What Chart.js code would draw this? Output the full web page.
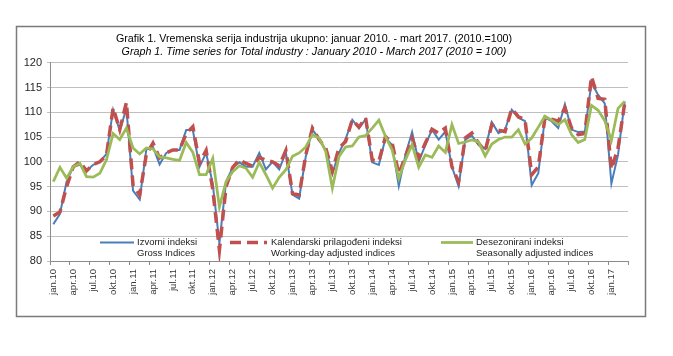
<!DOCTYPE html>
<html>
<head>
<meta charset="utf-8">
<script src="https://cdn.jsdelivr.net/npm/chart.js@4.4.1/dist/chart.umd.min.js"></script>
<style>
  html, body { margin: 0; padding: 0; background: #ffffff; }
  canvas { display: block; }
</style>
</head>
<body>
<canvas id="c" width="673" height="356"></canvas>
<script>
// ---- data ----
const monthNames = ['jan','feb','mar','apr','maj','jun','jul','avg','sep','okt','nov','dec'];
const yearNames = ['10','11','12','13','14','15','16','17'];
const monthCount = 87; // January 2010 - March 2017

const grossIndices = [
  87.4, 89.5, 96.0, 99.0, 99.4, 98.2, 99.4, 100.0, 101.6, 110.5, 106.3, 110.8,
  94.2, 92.4, 102.5, 103.0, 99.5, 101.8, 102.4, 102.4, 106.4, 106.4, 99.0, 101.8,
  95.5, 83.6, 96.0, 98.9, 99.9, 99.0, 99.0, 101.8, 98.5, 100.0, 98.5, 101.9,
  93.4, 92.6, 101.1, 106.5, 104.7, 102.4, 97.7, 101.8, 104.6, 108.5, 106.8, 108.6,
  99.9, 99.4, 104.8, 103.4, 95.1, 101.4, 106.0, 100.0, 103.4, 106.5, 104.5, 106.1,
  99.0, 95.1, 104.5, 105.3, 103.4, 102.6, 108.0, 105.8, 106.5, 110.5, 108.9, 108.2,
  95.3, 97.7, 108.9, 108.2, 106.8, 111.6, 106.5, 106.0, 106.1, 116.0, 113.5, 111.8,
  95.6, 101.4, 112.2
];
const workingDayAdjusted = [
  89.1, 89.9, 95.0, 99.0, 100.0, 98.2, 99.5, 100.0, 101.3, 110.9, 106.5, 112.0,
  95.3, 93.3, 101.5, 103.8, 100.8, 101.8, 102.4, 102.4, 105.7, 107.1, 99.8, 102.3,
  94.5, 82.2, 95.0, 98.9, 100.4, 99.7, 99.1, 100.9, 100.3, 100.0, 99.2, 102.3,
  93.6, 93.3, 101.4, 106.8, 104.5, 102.8, 98.1, 102.8, 104.1, 108.5, 107.0, 108.9,
  100.4, 100.1, 105.1, 103.8, 97.5, 101.1, 104.8, 100.7, 103.8, 106.6, 105.8, 106.8,
  99.0, 96.0, 104.8, 105.8, 103.8, 102.1, 107.5, 106.4, 106.1, 110.7, 109.1, 108.5,
  97.4, 99.0, 108.9, 108.6, 108.2, 110.9, 106.8, 105.5, 105.7, 117.2, 112.8, 112.6,
  98.5, 102.8, 111.8
];
const seasonallyAdjusted = [
  96.0, 98.9, 96.7, 99.0, 99.7, 97.0, 96.9, 97.7, 100.4, 105.7, 104.5, 106.8,
  102.8, 101.6, 102.8, 102.6, 101.0, 100.8, 100.5, 100.3, 103.9, 101.9, 97.4, 97.4,
  100.7, 90.9, 96.0, 98.0, 99.2, 98.7, 96.9, 99.9, 97.4, 94.7, 96.9, 98.4,
  101.1, 101.8, 103.0, 105.5, 104.8, 102.1, 94.7, 101.1, 103.0, 103.2, 105.0, 105.3,
  106.8, 108.4, 105.1, 102.4, 96.7, 100.4, 103.5, 98.9, 101.4, 100.9, 103.2, 101.9,
  107.5, 103.7, 104.0, 104.4, 104.0, 101.2, 103.6, 104.5, 105.0, 105.0, 106.5, 103.6,
  104.8, 107.0, 109.2, 108.4, 107.5, 108.5, 105.5, 103.9, 104.5, 111.4, 110.4, 108.3,
  104.3, 110.8, 112.2
];
const yTicks = [80, 85, 90, 95, 100, 105, 110, 115, 120];

const titleLine1 = 'Grafik 1. Vremenska serija industrija ukupno: januar 2010. - mart 2017. (2010.=100)';
const titleLine2 = 'Graph 1. Time series for Total industry : January 2010 - March 2017 (2010 = 100)';
const seriesNames = [
  ['Izvorni indeksi', 'Gross Indices'],
  ['Kalendarski prilagođeni indeksi', 'Working-day adjusted indices'],
  ['Desezonirani indeksi', 'Seasonally adjusted indices']
];

// ---- build categories ----
const categories = [];
for (const y of yearNames) {
  for (const m of monthNames) {
    if (categories.length < monthCount) categories.push(m + '.' + y);
  }
}

const FONT = "'Liberation Sans', Arial, sans-serif";
const BLUE = '#4a7ebb';
const RED = '#c0504d';
const GREEN = '#9bbb59';

const framePlugin = {
  id: 'frame',
  beforeDraw(chart) {
    const ctx = chart.ctx;
    ctx.save();
    ctx.fillStyle = '#ffffff';
    ctx.fillRect(0, 0, chart.width, chart.height);
    ctx.strokeStyle = '#7a7a7a';
    ctx.lineWidth = 1.5;
    ctx.strokeRect(16.5, 26.5, 629, 290);
    ctx.restore();
  }
};

const legendPlugin = {
  id: 'twoLineLegend',
  afterDraw(chart) {
    const ctx = chart.ctx;
    const ca = chart.chartArea;
    const entries = [
      { x0: ca.left + 50, x1: ca.left + 84, tx: ca.left + 87 },
      { x0: ca.left + 180, x1: ca.left + 217, tx: ca.left + 221 },
      { x0: ca.left + 391, x1: ca.left + 423, tx: ca.left + 426 }
    ];
    const yLine = ca.bottom - 18.5;
    ctx.save();
    chart.data.datasets.forEach((ds, i) => {
      const e = entries[i];
      ctx.beginPath();
      ctx.strokeStyle = ds.borderColor;
      ctx.lineWidth = ds.borderWidth;
      ctx.setLineDash(ds.borderDash || []);
      ctx.lineDashOffset = 0;
      ctx.moveTo(e.x0, yLine);
      ctx.lineTo(e.x1, yLine);
      ctx.stroke();
      ctx.setLineDash([]);
      ctx.fillStyle = '#1a1a1a';
      ctx.font = '9.5px ' + FONT;
      ctx.textAlign = 'left';
      ctx.textBaseline = 'middle';
      ctx.fillText(seriesNames[i][0], e.tx, yLine);
      ctx.fillText(seriesNames[i][1], e.tx, yLine + 11);
    });
    ctx.restore();
  }
};

new Chart(document.getElementById('c'), {
  type: 'line',
  data: {
    labels: categories,
    datasets: [
      {
        label: seriesNames[0].join(' / '),
        data: grossIndices,
        borderColor: BLUE,
        borderWidth: 2,
        pointRadius: 0,
        tension: 0,
        fill: false,
        order: 3
      },
      {
        label: seriesNames[1].join(' / '),
        data: workingDayAdjusted,
        borderColor: RED,
        borderWidth: 3.5,
        borderDash: [11, 6],
        pointRadius: 0,
        tension: 0,
        fill: false,
        order: 2
      },
      {
        label: seriesNames[2].join(' / '),
        data: seasonallyAdjusted,
        borderColor: GREEN,
        borderWidth: 2.75,
        pointRadius: 0,
        tension: 0,
        fill: false,
        order: 1
      }
    ]
  },
  options: {
    responsive: false,
    animation: false,
    devicePixelRatio: 1,
    layout: { padding: { left: 0, right: 45, top: 33, bottom: 0 } },
    plugins: {
      legend: { display: false },
      tooltip: { enabled: false },
      title: {
        display: true,
        text: titleLine1,
        color: '#000000',
        font: { family: FONT, size: 10.7, weight: 'normal' },
        padding: { top: 0, bottom: 0 }
      },
      subtitle: {
        display: true,
        text: titleLine2,
        color: '#000000',
        font: { family: FONT, size: 10.7, style: 'italic', weight: 'normal' },
        padding: { top: 0, bottom: 4 }
      }
    },
    scales: {
      x: {
        type: 'category',
        offset: true,
        afterFit(s) { s.height = 95; },
        border: { display: true, color: '#8c8c8c', width: 1 },
        grid: {
          display: true,
          offset: true,
          drawOnChartArea: false,
          drawTicks: true,
          tickLength: 4,
          color: (c) => (c.index === undefined || c.index % 3 === 0) ? '#8c8c8c' : 'rgba(0,0,0,0)'
        },
        ticks: {
          autoSkip: false,
          maxRotation: 90,
          minRotation: 90,
          padding: 4,
          color: '#333333',
          font: { family: FONT, size: 9.5 },
          callback: function (v, i) { return i % 3 === 0 ? categories[i] : ''; }
        }
      },
      y: {
        min: yTicks[0],
        max: yTicks[yTicks.length - 1],
        afterFit(s) { s.width = 50; },
        afterBuildTicks(s) { s.ticks = yTicks.map(v => ({ value: v })); },
        border: { display: true, color: '#8c8c8c', width: 1 },
        grid: {
          color: '#bfbfbf',
          lineWidth: 1,
          drawTicks: true,
          tickLength: 3
        },
        ticks: {
          padding: 5,
          color: '#262626',
          font: { family: FONT, size: 11 }
        }
      }
    }
  },
  plugins: [framePlugin, legendPlugin]
});
</script>
</body>
</html>
